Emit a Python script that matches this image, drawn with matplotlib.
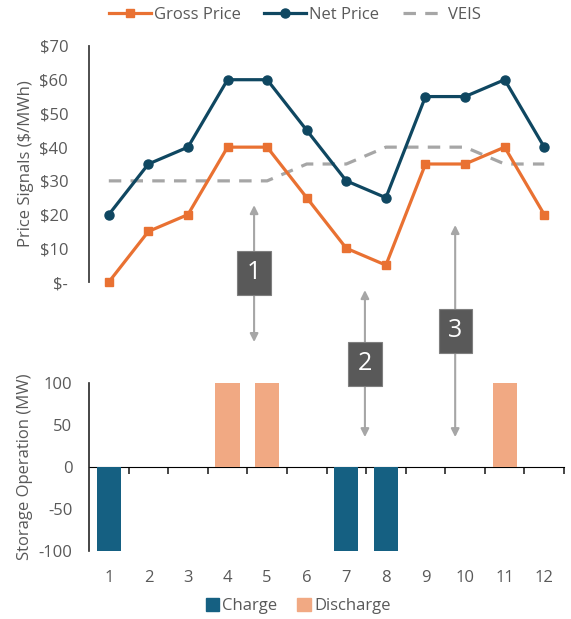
import matplotlib
matplotlib.use("Agg")
import matplotlib.pyplot as plt
from matplotlib.patches import Patch

plt.rcParams["font.family"] = ["Open Sans", "DejaVu Sans"]

# Hourly price signals and storage dispatch
hours = list(range(1, 13))
gross_price = [0, 15, 20, 40, 40, 25, 10, 5, 35, 35, 40, 20]
net_price = [20, 35, 40, 60, 60, 45, 30, 25, 55, 55, 60, 40]
veis = [30, 30, 30, 30, 30, 35, 35, 40, 40, 40, 35, 35]
charge = [-100, 0, 0, 0, 0, 0, -100, -100, 0, 0, 0, 0]
discharge = [0, 0, 0, 100, 100, 0, 0, 0, 0, 0, 100, 0]

price_ticks = [0, 10, 20, 30, 40, 50, 60, 70]
price_labels = ["$-", "$10", "$20", "$30", "$40", "$50", "$60", "$70"]
mw_ticks = [-100, -50, 0, 50, 100]
mw_labels = ["-100", "-50", "0", "50", "100"]

# callouts: label, x, arrow top, arrow bottom, box centre (price axis units)
callouts = [
    ("1", 4.67, 22.8, -17.8, 2.7),
    ("2", 7.47, -2.4, -46.0, -24.3),
    ("3", 9.75, 16.9, -46.0, -14.5),
]

ORANGE = "#E97132"
NAVY = "#0F4761"
GREY = "#A6A6A6"
CHARGE = "#156082"
DISCHARGE = "#F1A983"
TEXT = "#595959"

fig = plt.figure(figsize=(5.71, 6.19), dpi=100)
ax_p = fig.add_axes([0.1559, 0.5444, 0.8319, 0.3813])
ax_s = fig.add_axes([0.1559, 0.1098, 0.8319, 0.2714])
# price axes on top so the callout arrows are not hidden by the bar panel
ax_p.set_zorder(2)
ax_p.patch.set_visible(False)
ax_s.patch.set_visible(False)

# --- price panel ---
l1, = ax_p.plot(hours, gross_price, color=ORANGE, lw=2.3, marker="s", ms=6,
                clip_on=False, label="Gross Price", zorder=3)
l2, = ax_p.plot(hours, net_price, color=NAVY, lw=2.3, marker="o", ms=6.5,
                clip_on=False, label="Net Price", zorder=3)
l3, = ax_p.plot(hours, veis, color=GREY, lw=2.3, dashes=(3.9, 2.9),
                label="VEIS", zorder=2)
ax_p.set_xlim(0.5, 12.5)
ax_p.set_ylim(0, 70)
ax_p.set_yticks(price_ticks)
ax_p.set_yticklabels(price_labels)
ax_p.set_xticks([])
for s in ["top", "right", "bottom"]:
    ax_p.spines[s].set_visible(False)
ax_p.spines["left"].set_color("#404040")
ax_p.spines["left"].set_linewidth(1.3)
ax_p.tick_params(axis="y", length=0, pad=15, labelsize=12, labelcolor=TEXT)
ax_p.set_ylabel("Price Signals ($/MWh)", fontsize=12, color=TEXT, labelpad=4)

# --- storage panel ---
ax_s.bar(hours, charge, width=0.61, color=CHARGE, label="Charge")
ax_s.bar(hours, discharge, width=0.61, color=DISCHARGE, label="Discharge")
ax_s.set_xlim(0.5, 12.5)
ax_s.set_ylim(-100, 100)
ax_s.set_yticks(mw_ticks)
ax_s.set_yticklabels(mw_labels)
ax_s.set_xticks(hours)
for s in ["top", "right", "bottom"]:
    ax_s.spines[s].set_visible(False)
ax_s.spines["left"].set_color("#262626")
ax_s.spines["left"].set_linewidth(1.2)
ax_s.tick_params(axis="y", length=0, pad=12, labelsize=12, labelcolor=TEXT)
ax_s.tick_params(axis="x", length=0, pad=14, labelsize=12, labelcolor=TEXT)
ax_s.set_ylabel("Storage Operation (MW)", fontsize=12, color=TEXT, labelpad=4)

# zero line with category separators
zero_axis = ax_s.secondary_xaxis(0.5)
zero_axis.set_xticks([h + 0.5 for h in hours])
zero_axis.set_xticklabels([])
zero_axis.tick_params(direction="in", length=5, width=1.2, color="#262626")
zero_axis.spines["bottom"].set_color("#262626")
zero_axis.spines["bottom"].set_linewidth(1.2)

# --- numbered callouts ---
for label, x, top, bottom, mid in callouts:
    ax_p.annotate("", xy=(x, top), xytext=(x, bottom),
                  arrowprops=dict(arrowstyle="<|-|>", color=GREY, lw=1.5,
                                  mutation_scale=12, shrinkA=0, shrinkB=0),
                  annotation_clip=False, zorder=4)
    ax_p.text(x, mid, label, ha="center", va="center", fontsize=18,
              color="white", zorder=5, clip_on=False,
              bbox=dict(boxstyle="square,pad=0.38", fc="#595959", ec="#7F7F7F",
                        lw=0.8))

fig.legend(handles=[l1, l2, l3], loc="center", ncol=3,
           bbox_to_anchor=(295 / 571, 1 - 15 / 619), frameon=False,
           fontsize=12, labelcolor=TEXT, handlelength=2.5, handletextpad=0.2,
           columnspacing=1.4)
fig.legend(handles=[Patch(color=CHARGE, label="Charge"),
                    Patch(color=DISCHARGE, label="Discharge")],
           loc="center", ncol=2, bbox_to_anchor=(298 / 571, 1 - 606 / 619),
           frameon=False, fontsize=12, labelcolor=TEXT, handlelength=0.8,
           handleheight=0.8, handletextpad=0.2, columnspacing=1.2)

fig.savefig("out.png", dpi=100)
